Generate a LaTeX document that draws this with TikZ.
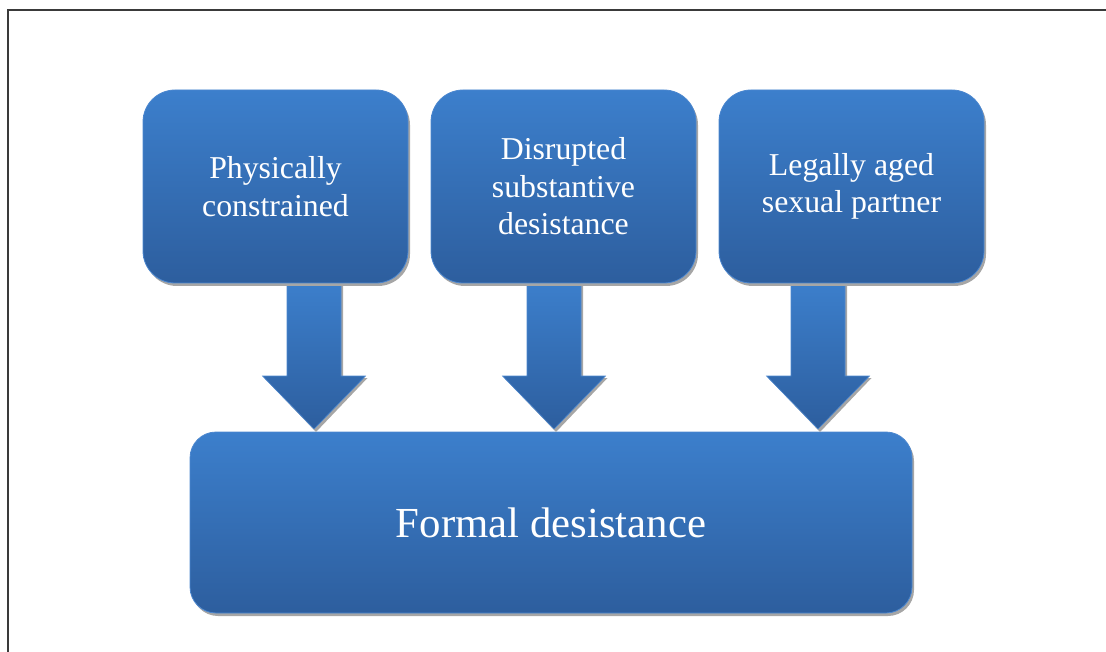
\documentclass[tikz,border=0pt]{standalone}
\usepackage{fontspec}
\setmainfont{Liberation Serif}
\usetikzlibrary{shadows,calc}
\definecolor{btop}{HTML}{3C7FCC}
\definecolor{bbot}{HTML}{2D5E9E}
\definecolor{bedge}{HTML}{4C87CF}
\definecolor{shade1}{HTML}{A6A6A6}
\definecolor{framecol}{HTML}{3A3A3A}
\tikzset{
  boxbase/.style={rectangle, top color=btop, bottom color=bbot, draw=bedge, line width=0.8pt,
    text=white, align=center,
    drop shadow={shadow xshift=2pt, shadow yshift=-3pt, fill=shade1, opacity=1}},
  smallbox/.style={boxbase, rounded corners=32pt, minimum width=265pt, minimum height=193pt,
    font=\fontsize{31.8}{37.5}\selectfont},
  bigbox/.style={boxbase, rounded corners=26pt, minimum width=722pt, minimum height=181pt,
    font=\fontsize{42.8}{48}\selectfont},
  blockarrow/.style={top color=btop, bottom color=bbot, draw=bedge, line width=0.6pt},
  arrowshadow/.style={fill=shade1},
  frameline/.style={draw=framecol, line width=1.5pt}
}
\begin{document}
\begin{tikzpicture}[x=1pt, y=-1pt]
\useasboundingbox (0,0) rectangle (1106,652);
\draw[frameline] (8,652) -- (8,10) -- (1106,10);

% arrow anchor coordinates
\coordinate (t1) at (314,281);
\coordinate (t2) at (554,281);
\coordinate (t3) at (818,281);

\node[bigbox] (big) at (551,522.5) {Formal desistance};

% block arrows (behind the top boxes)
\foreach \t in {t1,t2,t3}{
  \fill[arrowshadow] ($(\t)+(-25,2)$) -- ($(\t)+(-25,97)$) -- ($(\t)+(-49.5,97)$)
     -- ($(\t)+(2,151)$) -- ($(\t)+(53.5,97)$) -- ($(\t)+(29,97)$) -- ($(\t)+(29,2)$) -- cycle;
  \path[blockarrow] ($(\t)+(-27,0)$) -- ($(\t)+(-27,95)$) -- ($(\t)+(-51.5,95)$)
     -- ($(\t)+(0,148)$) -- ($(\t)+(51.5,95)$) -- ($(\t)+(27,95)$) -- ($(\t)+(27,0)$) -- cycle;
}

\node[smallbox] (b1) at (275.5,186.5) {Physically\\constrained};
\node[smallbox] (b2) at (563.5,186.5) {Disrupted\\substantive\\desistance};
\node[smallbox] (b3) at (851.5,186.5) {Legally aged\\sexual partner};
\end{tikzpicture}
\end{document}
